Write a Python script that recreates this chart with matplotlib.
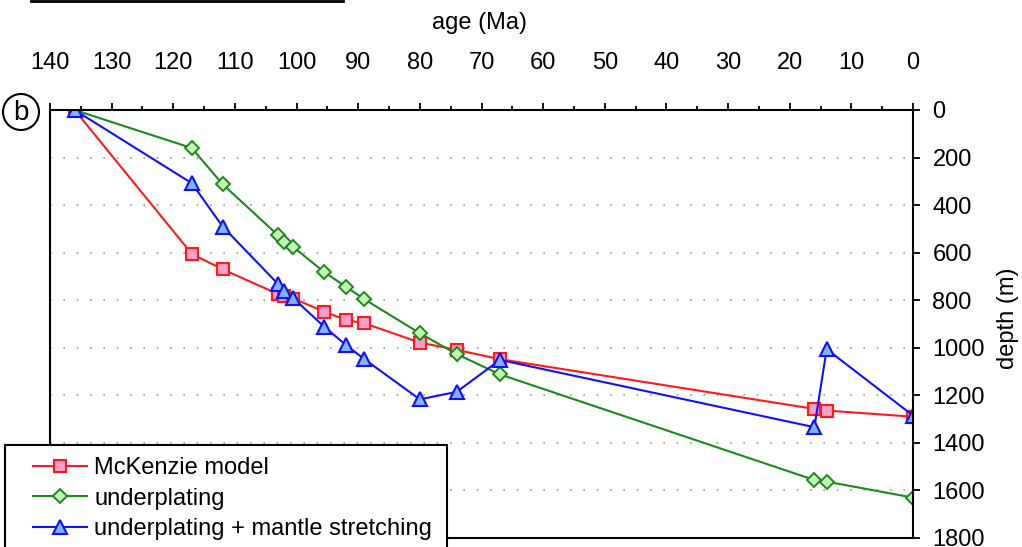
import matplotlib
matplotlib.use("Agg")
import matplotlib.pyplot as plt
from matplotlib.lines import Line2D
from matplotlib.patches import Ellipse, Rectangle

plt.rcParams['font.family'] = ['Liberation Sans', 'DejaVu Sans']

# subsidence curves: age (Ma) vs depth (m)
ages = [136, 117, 112, 103, 102, 100.5, 95.5, 92, 89, 80, 74, 67, 16, 14, 0]
mckenzie = [0, 605, 670, 774, 783, 793, 848, 883, 897, 978, 1009, 1048, 1257, 1264, 1290]
underplating = [0, 160, 312, 527, 554, 577, 682, 743, 796, 939, 1027, 1112, 1556, 1563, 1630]
stretching = [0, 308, 490, 732, 760, 792, 912, 988, 1048, 1217, 1185, 1051, 1334, 1006, 1285]

age_ticks = list(range(0, 141, 10))
depth_ticks = list(range(0, 1801, 200))

W, H = 1022, 547
fig = plt.figure(figsize=(W / 100, H / 100), dpi=100)
ax = fig.add_axes([50 / W, 1 - 538 / H, (913 - 50) / W, (538 - 110) / H])

ax.plot(ages, mckenzie, color='#ff1a1a', lw=1.5, marker='s', ms=9.2,
        mfc='#f5a0c8', mec='#ff1a1a', mew=1.5, label='McKenzie model')
ax.plot(ages, underplating, color='#1a8a1a', lw=1.5, marker='D', ms=7,
        mfc='#c4f2b4', mec='#1a8a1a', mew=1.4, label='underplating')
ax.plot(ages, stretching, color='#1010ff', lw=1.5, marker='^', ms=10,
        mfc='#80b4ff', mec='#1010ff', mew=1.5,
        label='underplating + mantle stretching')

ax.set_xlim(140, 0)
ax.set_ylim(1800, 0)

ax.xaxis.tick_top()
ax.set_xticks(age_ticks)
ax.set_xticks(range(5, 140, 10), minor=True)
ax.tick_params(axis='x', which='major', direction='out', length=5, width=1.3,
               labelsize=17, pad=21)
ax.tick_params(axis='x', which='minor', direction='out', length=3, width=1.3)

ax.yaxis.tick_right()
ax.set_yticks(depth_ticks)
ax.tick_params(axis='y', which='major', direction='out', length=5, width=1.3,
               labelsize=17, pad=9)

for s in ax.spines.values():
    s.set_linewidth(1.5)

ax.grid(axis='y', color='#9a9a9a', lw=1.2, linestyle=(0, (1, 7)))
ax.set_axisbelow(True)

fig.text(480 / W, 1 - 23 / H, 'age (Ma)', fontsize=17, ha='center', va='center')
fig.text(1008 / W, 1 - 318 / H, 'depth (m)', fontsize=17, rotation=90,
         ha='center', va='center')

# panel label
fig.add_artist(Ellipse((21 / W, 1 - 112 / H), 36 / W, 36 / H,
                       transform=fig.transFigure, fill=False, lw=1.5, color='black'))
fig.text(21 / W, 1 - 113 / H, 'b', fontsize=20, ha='center', va='center')

# edge of the panel above
fig.add_artist(Line2D([31 / W, 343 / W], [1 - 0.5 / H, 1 - 0.5 / H],
                      transform=fig.transFigure, color='black', lw=2))

# legend box, running off the bottom edge
fig.add_artist(Rectangle((5 / W, 1 - 560 / H), 442 / W, 115 / H,
                         transform=fig.transFigure, facecolor='white',
                         edgecolor='black', lw=1.5, zorder=3))
leg = fig.legend(loc='upper left', bbox_to_anchor=(33 / W, 1 - 457 / H),
                 bbox_transform=fig.transFigure, fontsize=17, frameon=False,
                 handlelength=2.3, handletextpad=0.3, labelspacing=0.37,
                 borderpad=0, borderaxespad=0)
leg.set_zorder(5)

fig.savefig('out.png', dpi=100)
